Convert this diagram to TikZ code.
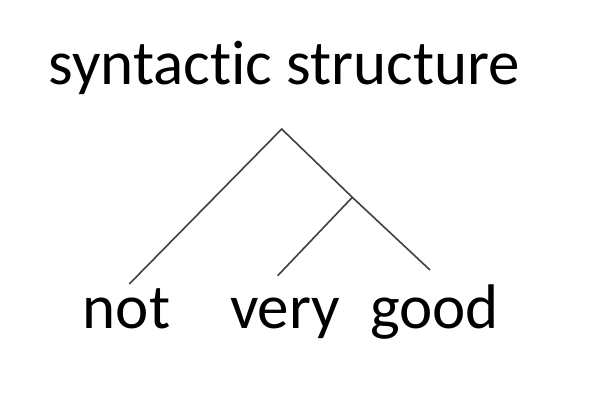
\documentclass[tikz,border=0pt]{standalone}
\usepackage{fontspec}
\setmainfont{Carlito}[Ligatures=NoCommon]
\usetikzlibrary{arrows.meta}
\tikzset{>=stealth}
\tikzset{word/.style={anchor=base,inner sep=0pt,text=black,font=\fontsize{63}{70}\selectfont},
	branch/.style={draw=black!75,line width=1.6pt}}
\begin{document}
\begin{tikzpicture}[x=1pt,y=-1pt]
			\useasboundingbox (0,0) rectangle (590,416);
			\node[word] (title) at (284.5,84) {syntactic structure};
			\node[word] (not) at (126.5,328) {not};
			\node[word] (very) at (285,328) {very};
			\node[word] (good) at (434.5,328) {good};
			\coordinate (top) at (281.7,129);
			\coordinate (join) at (352.3,197.3);
			\coordinate (notend) at (129.3,284);
			\coordinate (veryend) at (277.7,275.7);
			\coordinate (goodend) at (430,270);
			\draw[branch] (notend) -- (top) -- (join) -- (goodend);
			\draw[branch] (join) -- (veryend);
		\end{tikzpicture}
\end{document}
